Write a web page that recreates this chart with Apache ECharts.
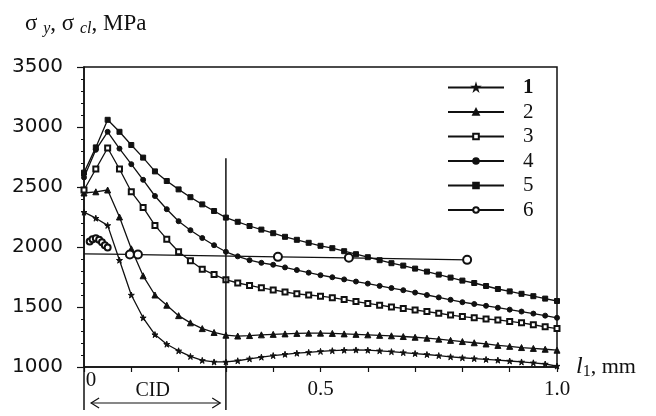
<!DOCTYPE html>
<html>
<head>
<meta charset="utf-8">
<script src="https://cdn.jsdelivr.net/npm/echarts@6/dist/echarts.min.js"></script>
<style>
  html, body { margin: 0; padding: 0; background: #fff; }
  #main { width: 656px; height: 416px; }
</style>
</head>
<body>
<div id="main"></div>
<script>
var ink = "#111";
var serif = "Liberation Serif";

// distance along l1, mm
var xs = [0, 0.025, 0.05, 0.075, 0.1, 0.125, 0.15, 0.175, 0.2, 0.225, 0.25, 0.275, 0.3,
  0.325, 0.35, 0.375, 0.4, 0.425, 0.45, 0.475, 0.5, 0.525, 0.55, 0.575, 0.6, 0.625, 0.65,
  0.675, 0.7, 0.725, 0.75, 0.775, 0.8, 0.825, 0.85, 0.875, 0.9, 0.925, 0.95, 0.975, 1.0];

var s1 = [2290, 2240, 2180, 1890, 1600, 1410, 1270, 1190, 1135, 1088, 1055, 1042, 1042,
  1052, 1068, 1082, 1095, 1106, 1115, 1122, 1130, 1136, 1140, 1142, 1140, 1135, 1128,
  1120, 1112, 1104, 1095, 1085, 1077, 1070, 1063, 1057, 1050, 1042, 1035, 1025, 1008];
var s2 = [2450, 2460, 2475, 2250, 1985, 1760, 1600, 1515, 1428, 1368, 1320, 1288, 1265,
  1258, 1262, 1268, 1272, 1276, 1280, 1282, 1282, 1280, 1276, 1272, 1268, 1264, 1260,
  1254, 1248, 1240, 1232, 1222, 1212, 1202, 1192, 1180, 1172, 1162, 1155, 1148, 1140];
var s3 = [2475, 2650, 2825, 2650, 2460, 2330, 2180, 2065, 1960, 1885, 1815, 1770, 1728,
  1700, 1680, 1660, 1642, 1625, 1610, 1600, 1590, 1578, 1562, 1545, 1530, 1515, 1500,
  1488, 1475, 1462, 1448, 1433, 1420, 1410, 1400, 1392, 1380, 1368, 1352, 1335, 1320];
var s4 = [2580, 2810, 2960, 2820, 2690, 2560, 2425, 2315, 2215, 2140, 2075, 2015, 1960,
  1922, 1890, 1868, 1852, 1830, 1808, 1786, 1765, 1748, 1730, 1712, 1695, 1676, 1658,
  1640, 1620, 1600, 1580, 1560, 1540, 1525, 1510, 1494, 1478, 1462, 1445, 1428, 1410];
var s5 = [2620, 2830, 3060, 2960, 2850, 2745, 2630, 2550, 2480, 2415, 2355, 2300, 2245,
  2210, 2175, 2145, 2115, 2085, 2060, 2035, 2010, 1990, 1965, 1940, 1915, 1890, 1865,
  1845, 1820, 1795, 1770, 1745, 1720, 1700, 1675, 1650, 1630, 1610, 1590, 1570, 1550];

// curve 6: nearly flat line with a few open circles, plus the small loop near the origin
var x6 = [0, 0.097, 0.114, 0.41, 0.56, 0.81];
var s6 = [1942, 1938, 1937, 1918, 1910, 1893];
var x6loop = [0.012, 0.018, 0.025, 0.032, 0.038, 0.044, 0.05];
var s6loop = [2045, 2065, 2072, 2060, 2040, 2015, 1995];

var names = ["1", "2", "3", "4", "5", "6"];
var yTicks = [1000, 1500, 2000, 2500, 3000, 3500];
var xLabels = [0.5, 1.0];

// annotation positions in data units
var cidX = 0.3;
var cidLineTop = 2740, cidLineBottom = 642;
var cidArrow = [0.015, 0.288], cidArrowY = 700;

var star = "path://M50,0 L61,35 L98,35 L68,57 L79,91 L50,70 L21,91 L32,57 L2,35 L39,35 Z";

function pairs(x, y) {
  return x.map(function (v, i) { return [v, y[i]]; });
}

function curve(name, data, symbol, size) {
  return {
    name: name,
    type: "line",
    data: data,
    symbol: symbol,
    symbolSize: size,
    showAllSymbol: true,
    lineStyle: { color: ink, width: 1.3 },
    itemStyle: { color: ink, borderColor: ink, borderWidth: 1 },
    emphasis: { disabled: true },
    z: 3
  };
}

var d6 = pairs(x6, s6);
d6[0] = { value: d6[0], symbol: "none" };

var chart = echarts.init(document.getElementById("main"));
var option = {
  animation: false,
  title: {
    text: "{s|σ }{sub|y}{s|, σ }{sub|cl}{s|, MPa}",
    left: 20,
    top: 6,
    textStyle: {
      fontWeight: "normal",
      rich: {
        s: { fontFamily: serif, fontSize: 23, fontWeight: "normal", color: ink },
        sub: { fontFamily: serif, fontSize: 16, fontStyle: "italic", fontWeight: "normal", color: ink, padding: [10, 0, 0, 0] }
      }
    }
  },
  grid: {
    left: 84, top: 67, right: 99, bottom: 49,
    show: true, borderColor: ink, borderWidth: 1.5, backgroundColor: "transparent"
  },
  legend: {
    data: names,
    orient: "vertical",
    left: 442,
    top: 72,
    itemWidth: 56,
    itemHeight: 7,
    itemGap: 3.5,
    formatter: function (n) { return n === "1" ? "{b|1}" : "{n|" + n + "}"; },
    textStyle: {
      padding: [0, 0, 0, 14],
      rich: {
        b: { fontFamily: serif, fontSize: 21, lineHeight: 21, fontWeight: "bold", color: ink },
        n: { fontFamily: serif, fontSize: 21, lineHeight: 21, color: ink }
      }
    }
  },
  xAxis: {
    type: "value",
    min: 0,
    max: 1,
    interval: 0.1,
    name: "{i|l}{sub|1}{n|, mm}",
    nameLocation: "end",
    nameGap: 16,
    nameTextStyle: {
      rich: {
        i: { fontFamily: serif, fontSize: 24, fontStyle: "italic", color: ink },
        sub: { fontFamily: serif, fontSize: 16, color: ink, padding: [10, 0, 0, 0] },
        n: { fontFamily: serif, fontSize: 22, color: ink }
      }
    },
    axisLine: { lineStyle: { color: ink, width: 1.5 } },
    axisTick: { inside: false, length: 5, lineStyle: { color: ink, width: 1.2 } },
    splitLine: { show: false },
    axisLabel: {
      margin: 12,
      fontFamily: serif,
      fontSize: 21,
      color: ink,
      formatter: function (v) {
        for (var i = 0; i < xLabels.length; i++) {
          if (Math.abs(v - xLabels[i]) < 1e-6) return xLabels[i].toFixed(1);
        }
        return "";
      }
    }
  },
  yAxis: {
    type: "value",
    min: yTicks[0],
    max: yTicks[yTicks.length - 1],
    interval: 500,
    axisLine: { show: true, lineStyle: { color: ink, width: 1.5 } },
    axisTick: { show: true, length: 7, lineStyle: { color: ink, width: 1.2 } },
    minorTick: { show: true, splitNumber: 5, length: 3, lineStyle: { color: ink, width: 1 } },
    splitLine: { show: false },
    axisLabel: {
      margin: 21, fontFamily: "DejaVu Sans", fontSize: 20, color: ink,
      formatter: function (v) { return String(v); }
    }
  },
  series: [
    curve("1", pairs(xs, s1), star, 6),
    curve("2", pairs(xs, s2), "triangle", 6),
    curve("3", pairs(xs, s3), "emptyRect", 5),
    curve("4", pairs(xs, s4), "circle", 5),
    curve("5", pairs(xs, s5), "rect", 5),
    curve("6", d6, "emptyCircle", 8),
    Object.assign(curve("6loop", pairs(x6loop, s6loop), "emptyCircle", 6), { z: 2 })
  ]
};
chart.setOption(option);

// vertical CID boundary, arrow and labels, placed through the axes' own scale
function px(pt) { return chart.convertToPixel({ gridIndex: 0 }, pt); }
var bTop = px([cidX, cidLineTop]);
var bBot = px([cidX, cidLineBottom]);
var axisTop = px([0, yTicks[0]]);
var axisBot = px([0, cidLineBottom]);
var a0 = px([cidArrow[0], cidArrowY]);
var a1 = px([cidArrow[1], cidArrowY]);
var lineStyle = { stroke: ink, lineWidth: 1.5, fill: null };

chart.setOption({
  graphic: [
    { type: "line", shape: { x1: bTop[0], y1: bTop[1], x2: bBot[0], y2: bBot[1] }, style: lineStyle, z: 10 },
    { type: "line", shape: { x1: axisTop[0], y1: axisTop[1], x2: axisBot[0], y2: axisBot[1] }, style: lineStyle, z: 10 },
    { type: "line", shape: { x1: a0[0], y1: a0[1], x2: a1[0], y2: a1[1] }, style: { stroke: ink, lineWidth: 1.2 }, z: 10 },
    { type: "polyline", shape: { points: [[a0[0] + 8, a0[1] - 5], [a0[0], a0[1]], [a0[0] + 8, a0[1] + 5]] }, style: { stroke: ink, lineWidth: 1.2, fill: null }, z: 10 },
    { type: "polyline", shape: { points: [[a1[0] - 8, a1[1] - 5], [a1[0], a1[1]], [a1[0] - 8, a1[1] + 5]] }, style: { stroke: ink, lineWidth: 1.2, fill: null }, z: 10 },
    { type: "text", x: (a0[0] + a1[0]) / 2 - 3, y: a0[1] - 2,
      style: { text: "CID", font: "20px " + serif, fill: ink, textAlign: "center", textVerticalAlign: "bottom" }, z: 10 },
    { type: "text", x: axisTop[0] + 7, y: axisTop[1] + 3,
      style: { text: "0", font: "21px " + serif, fill: ink, textAlign: "center", textVerticalAlign: "top" }, z: 10 }
  ]
});
</script>
</body>
</html>
